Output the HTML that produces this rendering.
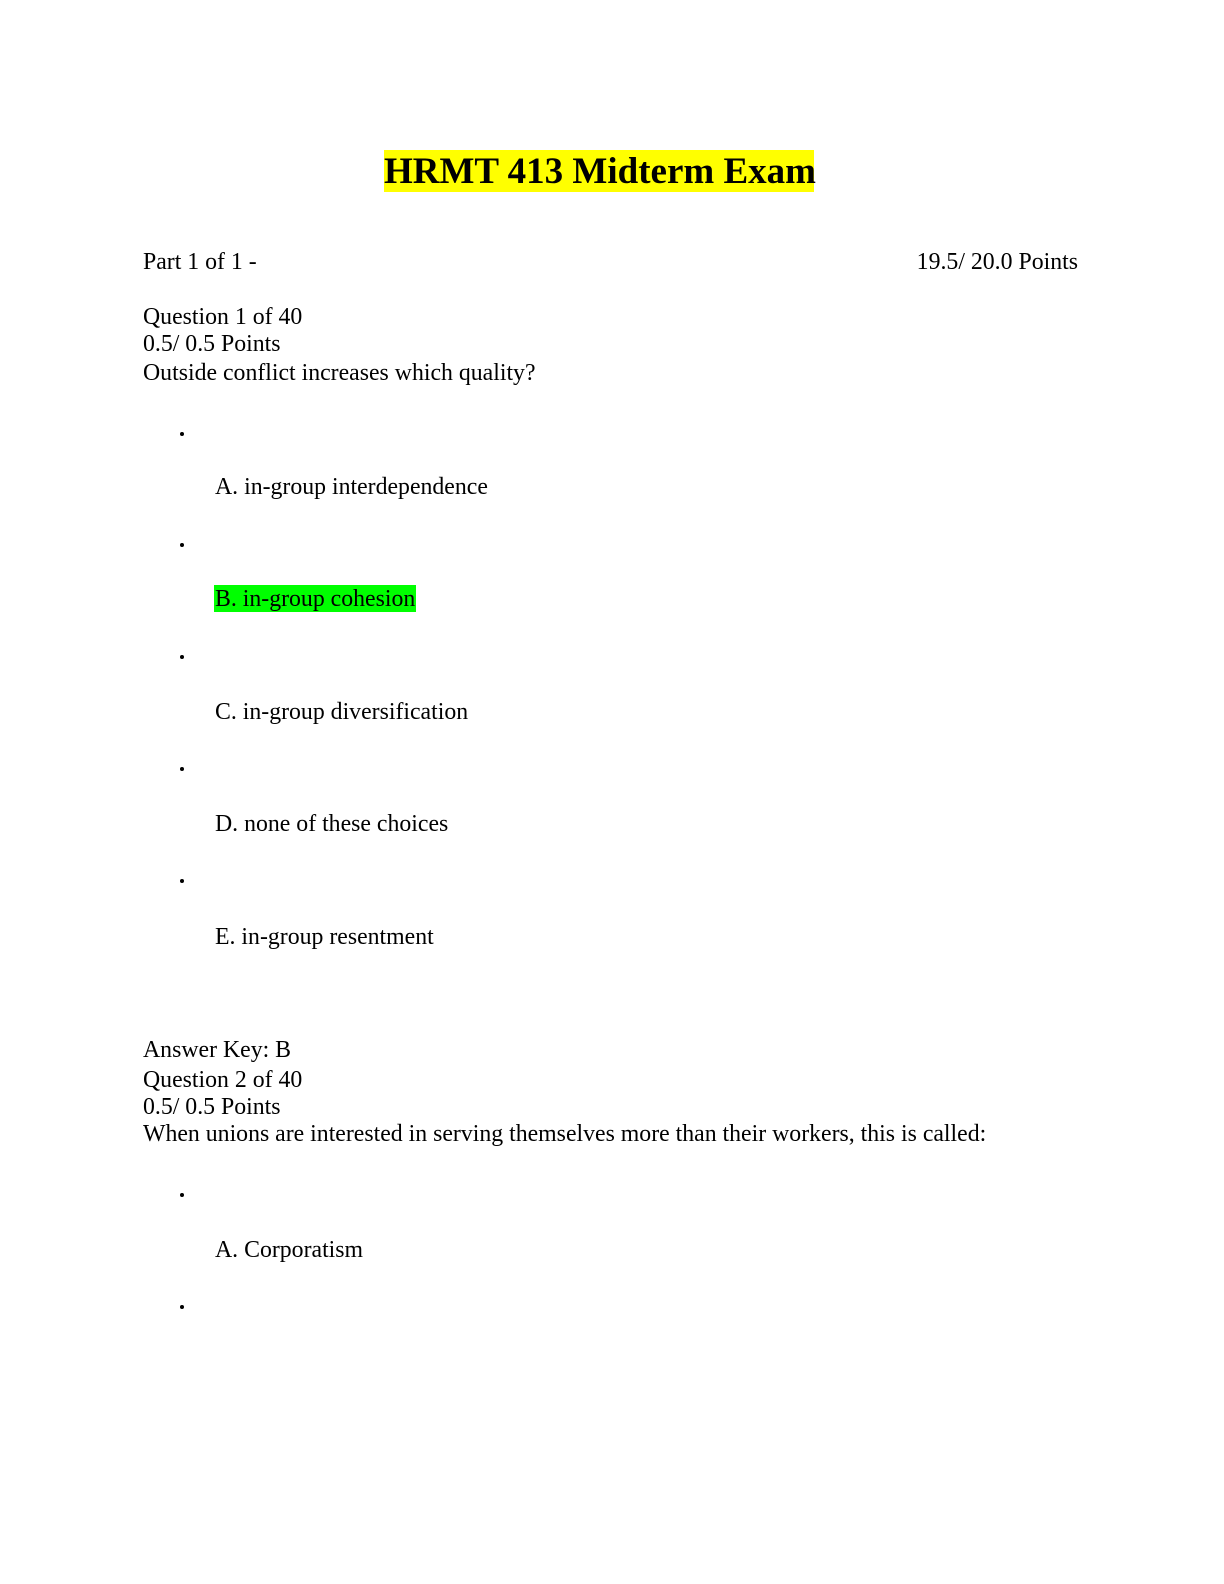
<!DOCTYPE html>
<html><head><meta charset="utf-8"><style>
body{margin:0;width:1224px;height:1584px;background:#fff;position:relative;font-family:"Liberation Serif",serif;color:#000;overflow:hidden}
.t{position:absolute;font-size:23.8px;line-height:24px;white-space:nowrap}
.b{position:absolute;width:4px;height:4px;border-radius:50%;background:#000;left:180px}
</style></head><body>
<div style="position:absolute;left:384px;top:150px;width:430px;height:42px;background:#ffff00"></div>
<div class="t" style="left:384px;top:152px;width:430px;text-align:center;font-size:37px;line-height:40px;font-weight:bold">HRMT 413 Midterm Exam</div>
<div class="t" style="left:143px;top:250px">Part 1 of 1 -</div>
<div class="t" style="left:778px;width:300px;text-align:right;top:250px">19.5/ 20.0 Points</div>
<div class="t" style="left:143px;top:305px">Question 1 of 40</div>
<div class="t" style="left:143px;top:332px">0.5/ 0.5 Points</div>
<div class="t" style="left:143px;top:361px">Outside conflict increases which quality?</div>
<div class="b" style="top:432px"></div>
<div class="t" style="left:215px;top:475px">A. in-group interdependence</div>
<div class="b" style="top:543px"></div>
<div style="position:absolute;left:214px;top:585px;width:202px;height:27px;background:#00ff00"></div>
<div class="t" style="left:215px;top:587px">B. in-group cohesion</div>
<div class="b" style="top:655px"></div>
<div class="t" style="left:215px;top:700px">C. in-group diversification</div>
<div class="b" style="top:767px"></div>
<div class="t" style="left:215px;top:812px">D. none of these choices</div>
<div class="b" style="top:879px"></div>
<div class="t" style="left:215px;top:925px">E. in-group resentment</div>
<div class="t" style="left:143px;top:1038px">Answer Key: B</div>
<div class="t" style="left:143px;top:1068px">Question 2 of 40</div>
<div class="t" style="left:143px;top:1095px">0.5/ 0.5 Points</div>
<div class="t" style="left:143px;top:1122px">When unions are interested in serving themselves more than their workers, this is called:</div>
<div class="b" style="top:1193px"></div>
<div class="t" style="left:215px;top:1238px">A. Corporatism</div>
<div class="b" style="top:1305px"></div>
</body></html>
